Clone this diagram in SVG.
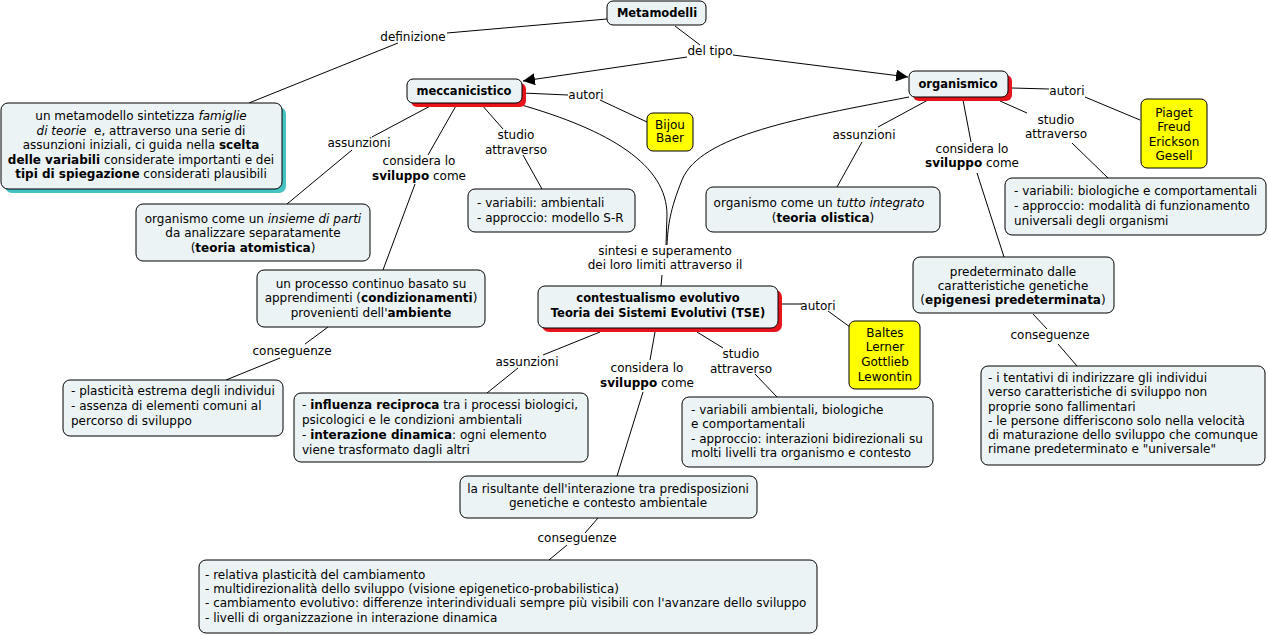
<svg xmlns="http://www.w3.org/2000/svg" width="1269" height="636" viewBox="0 0 1269 636">
<style>
.bx{fill:#ecf3f5;stroke:#000;stroke-width:1}
.yl{fill:#ffff00;stroke:#000;stroke-width:1}
.rs{fill:#e8141c}
.cs{fill:#45c2c2}
.t{font-family:"DejaVu Sans",Verdana,sans-serif;font-size:12px;fill:#000}
.h{font-family:"DejaVu Sans",Verdana,sans-serif;font-size:11.5px;font-weight:bold;fill:#000}
.c{text-anchor:middle}
.b{font-weight:bold}
.i{font-style:italic}
.ln{stroke:#000;stroke-width:1;fill:none}
</style>
<defs>
<marker id="ar" viewBox="0 0 10 10" refX="10" refY="5" markerWidth="12" markerHeight="12" markerUnits="userSpaceOnUse" orient="auto">
<path d="M0,0 L10,5 L0,10 z" fill="#000"/>
</marker>
</defs>
<rect width="1269" height="636" fill="#fff"/>

<g id="connectors">
<line class="ln" x1="607" y1="19" x2="447" y2="33"/>
<line class="ln" x1="398" y1="43" x2="249" y2="103"/>
<line class="ln" x1="675" y1="26" x2="700" y2="45"/>
<line class="ln" x1="687" y1="57" x2="523" y2="81" marker-end="url(#ar)"/>
<line class="ln" x1="733" y1="55" x2="908" y2="77" marker-end="url(#ar)"/>
<line class="ln" x1="522" y1="93" x2="568" y2="95"/>
<line class="ln" x1="600" y1="100" x2="647" y2="122"/>
<line class="ln" x1="434" y1="104" x2="372" y2="137"/>
<line class="ln" x1="352" y1="150" x2="287" y2="204"/>
<line class="ln" x1="457" y1="104" x2="428" y2="155"/>
<line class="ln" x1="415" y1="184" x2="383" y2="270"/>
<line class="ln" x1="481" y1="104" x2="503" y2="129"/>
<line class="ln" x1="523" y1="155" x2="542" y2="189"/>
<path class="ln" d="M518,104 C610,130 667,165 667,215 L666,245"/>
<path class="ln" d="M909,97 C800,118 700,135 682,180 C670,210 668,225 667,245"/>
<line class="ln" x1="662" y1="275" x2="661" y2="286"/>
<line class="ln" x1="782" y1="304" x2="802" y2="304"/>
<line class="ln" x1="828" y1="311" x2="850" y2="327"/>
<line class="ln" x1="600" y1="332" x2="543" y2="355"/>
<line class="ln" x1="518" y1="368" x2="487" y2="393"/>
<line class="ln" x1="655" y1="332" x2="650" y2="360"/>
<line class="ln" x1="643" y1="392" x2="617" y2="476"/>
<line class="ln" x1="697" y1="332" x2="723" y2="348"/>
<line class="ln" x1="755" y1="374" x2="777" y2="397"/>
<line class="ln" x1="328" y1="327" x2="305" y2="344"/>
<line class="ln" x1="280" y1="358" x2="226" y2="380"/>
<line class="ln" x1="598" y1="518" x2="585" y2="533"/>
<line class="ln" x1="567" y1="545" x2="549" y2="560"/>
<line class="ln" x1="1012" y1="88" x2="1049" y2="89"/>
<line class="ln" x1="1085" y1="97" x2="1140" y2="120"/>
<line class="ln" x1="928" y1="100" x2="878" y2="127"/>
<line class="ln" x1="862" y1="142" x2="837" y2="187"/>
<line class="ln" x1="963" y1="100" x2="971" y2="142"/>
<line class="ln" x1="977" y1="173" x2="1004" y2="257"/>
<line class="ln" x1="1000" y1="101" x2="1027" y2="113"/>
<line class="ln" x1="1072" y1="143" x2="1108" y2="178"/>
<line class="ln" x1="1033" y1="314" x2="1047" y2="329"/>
<line class="ln" x1="1058" y1="344" x2="1077" y2="366"/>
</g>

<g id="labels">
<text class="t c" x="413" y="41">definizione</text>
<text class="t c" x="710" y="55">del tipo</text>
<text class="t c" x="586" y="99">autori</text>
<text class="t c" x="359" y="147">assunzioni</text>
<text class="t c" x="419" y="165">considera lo</text>
<text class="t c" x="419" y="180"><tspan class="b">sviluppo</tspan> come</text>
<text class="t c" x="516" y="139">studio</text>
<text class="t c" x="516" y="154">attraverso</text>
<text class="t c" x="665" y="255">sintesi e superamento</text>
<text class="t c" x="665" y="269">dei loro limiti attraverso il</text>
<text class="t c" x="292" y="355">conseguenze</text>
<text class="t c" x="818" y="310">autori</text>
<text class="t c" x="527" y="366">assunzioni</text>
<text class="t c" x="647" y="372">considera lo</text>
<text class="t c" x="647" y="387"><tspan class="b">sviluppo</tspan> come</text>
<text class="t c" x="741" y="358">studio</text>
<text class="t c" x="741" y="373">attraverso</text>
<text class="t c" x="577" y="542">conseguenze</text>
<text class="t c" x="1067" y="95">autori</text>
<text class="t c" x="864" y="139">assunzioni</text>
<text class="t c" x="972" y="153">considera lo</text>
<text class="t c" x="972" y="167"><tspan class="b">sviluppo</tspan> come</text>
<text class="t c" x="1056" y="124">studio</text>
<text class="t c" x="1056" y="138">attraverso</text>
<text class="t c" x="1050" y="339">conseguenze</text>
</g>

<g id="metamodelli">
<rect class="bx" x="607" y="1" width="99" height="24" rx="6"/>
<text class="h c" x="657" y="17">Metamodelli</text>
</g>

<g id="definizione-box">
<rect class="cs" x="5" y="107" width="281" height="86" rx="7"/>
<rect class="bx" x="1" y="103" width="281" height="86" rx="7"/>
<text class="t c" x="141" y="120">un metamodello sintetizza <tspan class="i">famiglie</tspan></text>
<text class="t c" x="141" y="134.5" xml:space="preserve"><tspan class="i">di teorie</tspan>  e, attraverso una serie di</text>
<text class="t c" x="141" y="149">assunzioni iniziali, ci guida nella <tspan class="b">scelta</tspan></text>
<text class="t c" x="141" y="163.5"><tspan class="b">delle variabili</tspan> considerate importanti e dei</text>
<text class="t c" x="141" y="178"><tspan class="b">tipi di spiegazione</tspan> considerati plausibili</text>
</g>

<g id="meccanicistico">
<rect class="rs" x="411" y="83" width="115" height="24" rx="6"/>
<rect class="bx" x="407" y="79" width="115" height="24" rx="6"/>
<text class="h c" x="464" y="95">meccanicistico</text>
</g>

<g id="bijou">
<rect class="yl" x="647" y="113" width="46" height="38" rx="6"/>
<text class="t c" x="670" y="129">Bijou</text>
<text class="t c" x="670" y="142">Baer</text>
</g>

<g id="insieme-parti">
<rect class="bx" x="136" y="204" width="234" height="57" rx="7"/>
<text class="t c" x="253" y="223">organismo come un <tspan class="i">insieme di parti</tspan></text>
<text class="t c" x="253" y="237">da analizzare separatamente</text>
<text class="t c" x="253" y="252">(<tspan class="b">teoria atomistica</tspan>)</text>
</g>

<g id="processo-continuo">
<rect class="bx" x="257" y="270" width="228" height="57" rx="7"/>
<text class="t c" x="371" y="288">un processo continuo basato su</text>
<text class="t c" x="371" y="302">apprendimenti (<tspan class="b">condizionamenti</tspan>)</text>
<text class="t c" x="371" y="317">provenienti dell'<tspan class="b">ambiente</tspan></text>
</g>

<g id="variabili-ambientali">
<rect class="bx" x="468" y="189" width="167" height="43" rx="7"/>
<text class="t" x="477" y="207">- variabili: ambientali</text>
<text class="t" x="477" y="222">- approccio: modello S-R</text>
</g>

<g id="plasticita-estrema">
<rect class="bx" x="63" y="380" width="220" height="56" rx="7"/>
<text class="t" x="71" y="395">- plasticità estrema degli individui</text>
<text class="t" x="71" y="410">- assenza di elementi comuni al</text>
<text class="t" x="71" y="425">percorso di sviluppo</text>
</g>

<g id="organismico">
<rect class="rs" x="913" y="75" width="99" height="26" rx="6"/>
<rect class="bx" x="909" y="71" width="99" height="26" rx="6"/>
<text class="h c" x="958" y="88">organismico</text>
</g>

<g id="piaget">
<rect class="yl" x="1141" y="99" width="66" height="69" rx="6"/>
<text class="t c" x="1174" y="117">Piaget</text>
<text class="t c" x="1174" y="131">Freud</text>
<text class="t c" x="1174" y="146">Erickson</text>
<text class="t c" x="1174" y="160">Gesell</text>
</g>

<g id="tutto-integrato">
<rect class="bx" x="706" y="187" width="234" height="45" rx="7"/>
<text class="t c" x="819" y="207">organismo come un <tspan class="i">tutto integrato</tspan></text>
<text class="t c" x="823" y="222">(<tspan class="b">teoria olistica</tspan>)</text>
</g>

<g id="variabili-biologiche">
<rect class="bx" x="1005" y="178" width="261" height="57" rx="7"/>
<text class="t" x="1014" y="195">- variabili: biologiche e comportamentali</text>
<text class="t" x="1014" y="210">- approccio: modalità di funzionamento</text>
<text class="t" x="1014" y="225">universali degli organismi</text>
</g>

<g id="predeterminato">
<rect class="bx" x="913" y="257" width="201" height="56" rx="7"/>
<text class="t c" x="1013" y="275.5">predeterminato dalle</text>
<text class="t c" x="1013" y="289.5">caratteristiche genetiche</text>
<text class="t c" x="1013" y="303.5">(<tspan class="b">epigenesi predeterminata</tspan>)</text>
</g>

<g id="tentativi">
<rect class="bx" x="981" y="366" width="284" height="99" rx="7"/>
<text class="t" x="988" y="382">- i tentativi di indirizzare gli individui</text>
<text class="t" x="988" y="396">verso caratteristiche di sviluppo non</text>
<text class="t" x="988" y="411">proprie sono fallimentari</text>
<text class="t" x="988" y="425">- le persone differiscono solo nella velocità</text>
<text class="t" x="988" y="439">di maturazione dello sviluppo che comunque</text>
<text class="t" x="988" y="453">rimane predeterminato e "universale"</text>
</g>

<g id="contestualismo">
<rect class="rs" x="542" y="290" width="240" height="42" rx="7"/>
<rect class="bx" x="538" y="286" width="240" height="42" rx="7"/>
<text class="h c" x="658" y="302">contestualismo evolutivo</text>
<text class="h c" x="658" y="317">Teoria dei Sistemi Evolutivi (TSE)</text>
</g>

<g id="baltes">
<rect class="yl" x="849" y="321" width="71" height="68" rx="6"/>
<text class="t c" x="885" y="337">Baltes</text>
<text class="t c" x="885" y="351">Lerner</text>
<text class="t c" x="885" y="366">Gottlieb</text>
<text class="t c" x="885" y="381">Lewontin</text>
</g>

<g id="influenza-reciproca">
<rect class="bx" x="294" y="393" width="294" height="69" rx="7"/>
<text class="t" x="302" y="409">- <tspan class="b">influenza reciproca</tspan> tra i processi biologici,</text>
<text class="t" x="302" y="424">psicologici e le condizioni ambientali</text>
<text class="t" x="302" y="439">- <tspan class="b">interazione dinamica</tspan>: ogni elemento</text>
<text class="t" x="302" y="454">viene trasformato dagli altri</text>
</g>

<g id="variabili-tse">
<rect class="bx" x="682" y="397" width="251" height="70" rx="7"/>
<text class="t" x="691" y="414">- variabili ambientali, biologiche</text>
<text class="t" x="691" y="428">e comportamentali</text>
<text class="t" x="691" y="443">- approccio: interazioni bidirezionali su</text>
<text class="t" x="691" y="457">molti livelli tra organismo e contesto</text>
</g>

<g id="risultante">
<rect class="bx" x="460" y="476" width="297" height="42" rx="7"/>
<text class="t c" x="608" y="493">la risultante dell'interazione tra predisposizioni</text>
<text class="t c" x="608" y="507">genetiche e contesto ambientale</text>
</g>

<g id="conseguenze-tse">
<rect class="bx" x="199" y="560" width="618" height="73" rx="7"/>
<text class="t" x="205" y="579">- relativa plasticità del cambiamento</text>
<text class="t" x="205" y="593">- multidirezionalità dello sviluppo (visione epigenetico-probabilistica)</text>
<text class="t" x="205" y="607">- cambiamento evolutivo: differenze interindividuali sempre più visibili con l'avanzare dello sviluppo</text>
<text class="t" x="205" y="622">- livelli di organizzazione in interazione dinamica</text>
</g>
</svg>
